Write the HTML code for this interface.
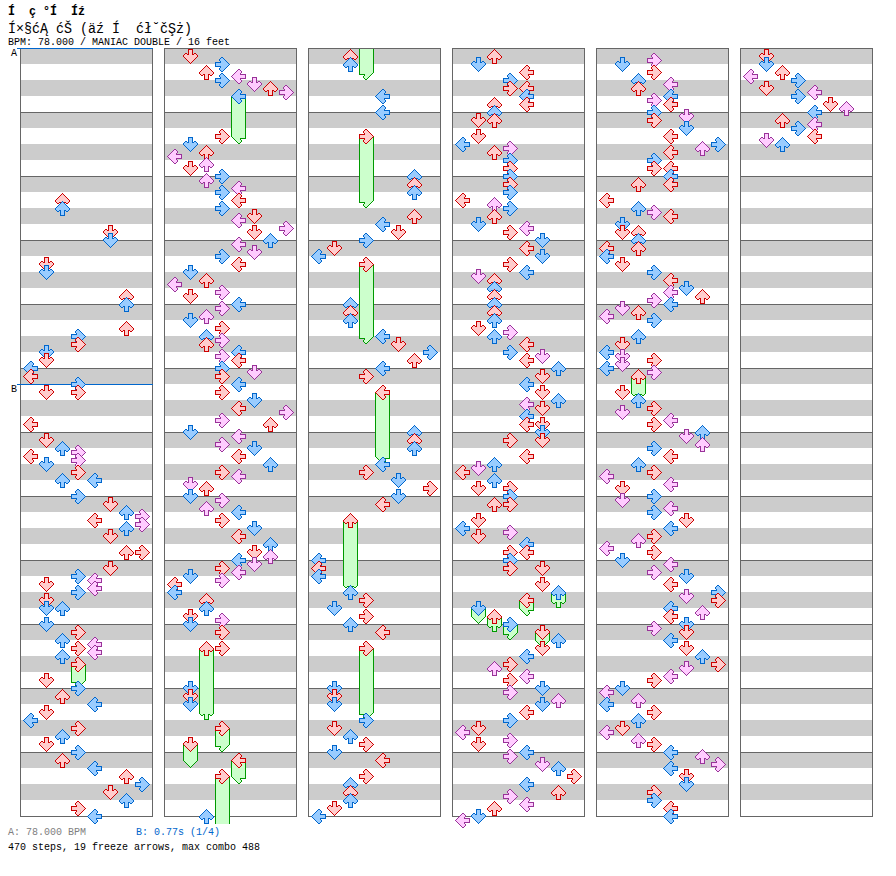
<!DOCTYPE html>
<html><head><meta charset="utf-8"><title>chart</title>
<style>
html,body{margin:0;padding:0;background:#fff;}
body{width:896px;height:876px;position:relative;overflow:hidden;font-family:"Liberation Mono",monospace;color:#000;}
.t{position:absolute;white-space:pre;line-height:1;transform-origin:0 0;}
</style></head><body>
<svg width="896" height="876" viewBox="0 0 896 876" shape-rendering="crispEdges" style="position:absolute;left:0;top:0">
<defs><symbol id="Lr" overflow="visible"><path fill="#ffcccc" d="M7 1h2v1h-2zM6 2h4v1h-4zM5 3h5v1h-5zM4 4h5v1h-5zM3 5h6v1h-6zM2 6h12v1h-12zM1 7h13v1h-13zM2 8h12v1h-12zM3 9h6v1h-6zM4 10h5v1h-5zM5 11h5v1h-5zM6 12h4v1h-4zM7 13h2v1h-2z"/><path fill="#cc0000" d="M7 0h2v1h-2zM6 1h1v1h-1zM9 1h1v1h-1zM5 2h1v1h-1zM10 2h1v1h-1zM4 3h1v1h-1zM10 3h1v1h-1zM3 4h1v1h-1zM9 4h1v1h-1zM2 5h1v1h-1zM9 5h6v1h-6zM1 6h1v1h-1zM14 6h1v1h-1zM0 7h1v1h-1zM14 7h1v1h-1zM1 8h1v1h-1zM14 8h1v1h-1zM2 9h1v1h-1zM9 9h6v1h-6zM3 10h1v1h-1zM9 10h1v1h-1zM4 11h1v1h-1zM10 11h1v1h-1zM5 12h1v1h-1zM10 12h1v1h-1zM6 13h1v1h-1zM9 13h1v1h-1zM7 14h2v1h-2z"/></symbol>
<symbol id="Lb" overflow="visible"><path fill="#99ccff" d="M7 1h2v1h-2zM6 2h4v1h-4zM5 3h5v1h-5zM4 4h5v1h-5zM3 5h6v1h-6zM2 6h12v1h-12zM1 7h13v1h-13zM2 8h12v1h-12zM3 9h6v1h-6zM4 10h5v1h-5zM5 11h5v1h-5zM6 12h4v1h-4zM7 13h2v1h-2z"/><path fill="#0066cc" d="M7 0h2v1h-2zM6 1h1v1h-1zM9 1h1v1h-1zM5 2h1v1h-1zM10 2h1v1h-1zM4 3h1v1h-1zM10 3h1v1h-1zM3 4h1v1h-1zM9 4h1v1h-1zM2 5h1v1h-1zM9 5h6v1h-6zM1 6h1v1h-1zM14 6h1v1h-1zM0 7h1v1h-1zM14 7h1v1h-1zM1 8h1v1h-1zM14 8h1v1h-1zM2 9h1v1h-1zM9 9h6v1h-6zM3 10h1v1h-1zM9 10h1v1h-1zM4 11h1v1h-1zM10 11h1v1h-1zM5 12h1v1h-1zM10 12h1v1h-1zM6 13h1v1h-1zM9 13h1v1h-1zM7 14h2v1h-2z"/></symbol>
<symbol id="Lp" overflow="visible"><path fill="#ffccff" d="M7 1h2v1h-2zM6 2h4v1h-4zM5 3h5v1h-5zM4 4h5v1h-5zM3 5h6v1h-6zM2 6h12v1h-12zM1 7h13v1h-13zM2 8h12v1h-12zM3 9h6v1h-6zM4 10h5v1h-5zM5 11h5v1h-5zM6 12h4v1h-4zM7 13h2v1h-2z"/><path fill="#993399" d="M7 0h2v1h-2zM6 1h1v1h-1zM9 1h1v1h-1zM5 2h1v1h-1zM10 2h1v1h-1zM4 3h1v1h-1zM10 3h1v1h-1zM3 4h1v1h-1zM9 4h1v1h-1zM2 5h1v1h-1zM9 5h6v1h-6zM1 6h1v1h-1zM14 6h1v1h-1zM0 7h1v1h-1zM14 7h1v1h-1zM1 8h1v1h-1zM14 8h1v1h-1zM2 9h1v1h-1zM9 9h6v1h-6zM3 10h1v1h-1zM9 10h1v1h-1zM4 11h1v1h-1zM10 11h1v1h-1zM5 12h1v1h-1zM10 12h1v1h-1zM6 13h1v1h-1zM9 13h1v1h-1zM7 14h2v1h-2z"/></symbol>
<symbol id="Lg" overflow="visible"><path fill="#ccffcc" d="M2 8h12v1h-12zM3 9h6v1h-6zM4 10h5v1h-5zM5 11h5v1h-5zM6 12h4v1h-4zM7 13h2v1h-2z"/><path fill="#009900" d="M1 8h1v1h-1zM14 8h1v1h-1zM2 9h1v1h-1zM9 9h6v1h-6zM3 10h1v1h-1zM9 10h1v1h-1zM4 11h1v1h-1zM10 11h1v1h-1zM5 12h1v1h-1zM10 12h1v1h-1zM6 13h1v1h-1zM9 13h1v1h-1zM7 14h2v1h-2z"/></symbol>
<symbol id="Dr" overflow="visible"><path fill="#ffcccc" d="M6 1h3v1h-3zM6 2h3v1h-3zM6 3h3v1h-3zM6 4h3v1h-3zM2 5h2v1h-2zM6 5h3v1h-3zM11 5h2v1h-2zM1 6h13v1h-13zM1 7h13v1h-13zM2 8h11v1h-11zM3 9h9v1h-9zM4 10h7v1h-7zM5 11h5v1h-5zM6 12h3v1h-3zM7 13h1v1h-1z"/><path fill="#cc0000" d="M5 0h5v1h-5zM5 1h1v1h-1zM9 1h1v1h-1zM5 2h1v1h-1zM9 2h1v1h-1zM5 3h1v1h-1zM9 3h1v1h-1zM2 4h2v1h-2zM5 4h1v1h-1zM9 4h1v1h-1zM11 4h2v1h-2zM1 5h1v1h-1zM4 5h2v1h-2zM9 5h2v1h-2zM13 5h1v1h-1zM0 6h1v1h-1zM14 6h1v1h-1zM0 7h1v1h-1zM14 7h1v1h-1zM1 8h1v1h-1zM13 8h1v1h-1zM2 9h1v1h-1zM12 9h1v1h-1zM3 10h1v1h-1zM11 10h1v1h-1zM4 11h1v1h-1zM10 11h1v1h-1zM5 12h1v1h-1zM9 12h1v1h-1zM6 13h1v1h-1zM8 13h1v1h-1zM7 14h1v1h-1z"/></symbol>
<symbol id="Db" overflow="visible"><path fill="#99ccff" d="M6 1h3v1h-3zM6 2h3v1h-3zM6 3h3v1h-3zM6 4h3v1h-3zM2 5h2v1h-2zM6 5h3v1h-3zM11 5h2v1h-2zM1 6h13v1h-13zM1 7h13v1h-13zM2 8h11v1h-11zM3 9h9v1h-9zM4 10h7v1h-7zM5 11h5v1h-5zM6 12h3v1h-3zM7 13h1v1h-1z"/><path fill="#0066cc" d="M5 0h5v1h-5zM5 1h1v1h-1zM9 1h1v1h-1zM5 2h1v1h-1zM9 2h1v1h-1zM5 3h1v1h-1zM9 3h1v1h-1zM2 4h2v1h-2zM5 4h1v1h-1zM9 4h1v1h-1zM11 4h2v1h-2zM1 5h1v1h-1zM4 5h2v1h-2zM9 5h2v1h-2zM13 5h1v1h-1zM0 6h1v1h-1zM14 6h1v1h-1zM0 7h1v1h-1zM14 7h1v1h-1zM1 8h1v1h-1zM13 8h1v1h-1zM2 9h1v1h-1zM12 9h1v1h-1zM3 10h1v1h-1zM11 10h1v1h-1zM4 11h1v1h-1zM10 11h1v1h-1zM5 12h1v1h-1zM9 12h1v1h-1zM6 13h1v1h-1zM8 13h1v1h-1zM7 14h1v1h-1z"/></symbol>
<symbol id="Dp" overflow="visible"><path fill="#ffccff" d="M6 1h3v1h-3zM6 2h3v1h-3zM6 3h3v1h-3zM6 4h3v1h-3zM2 5h2v1h-2zM6 5h3v1h-3zM11 5h2v1h-2zM1 6h13v1h-13zM1 7h13v1h-13zM2 8h11v1h-11zM3 9h9v1h-9zM4 10h7v1h-7zM5 11h5v1h-5zM6 12h3v1h-3zM7 13h1v1h-1z"/><path fill="#993399" d="M5 0h5v1h-5zM5 1h1v1h-1zM9 1h1v1h-1zM5 2h1v1h-1zM9 2h1v1h-1zM5 3h1v1h-1zM9 3h1v1h-1zM2 4h2v1h-2zM5 4h1v1h-1zM9 4h1v1h-1zM11 4h2v1h-2zM1 5h1v1h-1zM4 5h2v1h-2zM9 5h2v1h-2zM13 5h1v1h-1zM0 6h1v1h-1zM14 6h1v1h-1zM0 7h1v1h-1zM14 7h1v1h-1zM1 8h1v1h-1zM13 8h1v1h-1zM2 9h1v1h-1zM12 9h1v1h-1zM3 10h1v1h-1zM11 10h1v1h-1zM4 11h1v1h-1zM10 11h1v1h-1zM5 12h1v1h-1zM9 12h1v1h-1zM6 13h1v1h-1zM8 13h1v1h-1zM7 14h1v1h-1z"/></symbol>
<symbol id="Dg" overflow="visible"><path fill="#ccffcc" d="M2 8h11v1h-11zM3 9h9v1h-9zM4 10h7v1h-7zM5 11h5v1h-5zM6 12h3v1h-3zM7 13h1v1h-1z"/><path fill="#009900" d="M1 8h1v1h-1zM13 8h1v1h-1zM2 9h1v1h-1zM12 9h1v1h-1zM3 10h1v1h-1zM11 10h1v1h-1zM4 11h1v1h-1zM10 11h1v1h-1zM5 12h1v1h-1zM9 12h1v1h-1zM6 13h1v1h-1zM8 13h1v1h-1zM7 14h1v1h-1z"/></symbol>
<symbol id="Ur" overflow="visible"><path fill="#ffcccc" d="M7 1h1v1h-1zM6 2h3v1h-3zM5 3h5v1h-5zM4 4h7v1h-7zM3 5h9v1h-9zM2 6h11v1h-11zM1 7h13v1h-13zM1 8h13v1h-13zM2 9h2v1h-2zM6 9h3v1h-3zM11 9h2v1h-2zM6 10h3v1h-3zM6 11h3v1h-3zM6 12h3v1h-3zM6 13h3v1h-3z"/><path fill="#cc0000" d="M7 0h1v1h-1zM6 1h1v1h-1zM8 1h1v1h-1zM5 2h1v1h-1zM9 2h1v1h-1zM4 3h1v1h-1zM10 3h1v1h-1zM3 4h1v1h-1zM11 4h1v1h-1zM2 5h1v1h-1zM12 5h1v1h-1zM1 6h1v1h-1zM13 6h1v1h-1zM0 7h1v1h-1zM14 7h1v1h-1zM0 8h1v1h-1zM14 8h1v1h-1zM1 9h1v1h-1zM4 9h2v1h-2zM9 9h2v1h-2zM13 9h1v1h-1zM2 10h2v1h-2zM5 10h1v1h-1zM9 10h1v1h-1zM11 10h2v1h-2zM5 11h1v1h-1zM9 11h1v1h-1zM5 12h1v1h-1zM9 12h1v1h-1zM5 13h1v1h-1zM9 13h1v1h-1zM5 14h5v1h-5z"/></symbol>
<symbol id="Ub" overflow="visible"><path fill="#99ccff" d="M7 1h1v1h-1zM6 2h3v1h-3zM5 3h5v1h-5zM4 4h7v1h-7zM3 5h9v1h-9zM2 6h11v1h-11zM1 7h13v1h-13zM1 8h13v1h-13zM2 9h2v1h-2zM6 9h3v1h-3zM11 9h2v1h-2zM6 10h3v1h-3zM6 11h3v1h-3zM6 12h3v1h-3zM6 13h3v1h-3z"/><path fill="#0066cc" d="M7 0h1v1h-1zM6 1h1v1h-1zM8 1h1v1h-1zM5 2h1v1h-1zM9 2h1v1h-1zM4 3h1v1h-1zM10 3h1v1h-1zM3 4h1v1h-1zM11 4h1v1h-1zM2 5h1v1h-1zM12 5h1v1h-1zM1 6h1v1h-1zM13 6h1v1h-1zM0 7h1v1h-1zM14 7h1v1h-1zM0 8h1v1h-1zM14 8h1v1h-1zM1 9h1v1h-1zM4 9h2v1h-2zM9 9h2v1h-2zM13 9h1v1h-1zM2 10h2v1h-2zM5 10h1v1h-1zM9 10h1v1h-1zM11 10h2v1h-2zM5 11h1v1h-1zM9 11h1v1h-1zM5 12h1v1h-1zM9 12h1v1h-1zM5 13h1v1h-1zM9 13h1v1h-1zM5 14h5v1h-5z"/></symbol>
<symbol id="Up" overflow="visible"><path fill="#ffccff" d="M7 1h1v1h-1zM6 2h3v1h-3zM5 3h5v1h-5zM4 4h7v1h-7zM3 5h9v1h-9zM2 6h11v1h-11zM1 7h13v1h-13zM1 8h13v1h-13zM2 9h2v1h-2zM6 9h3v1h-3zM11 9h2v1h-2zM6 10h3v1h-3zM6 11h3v1h-3zM6 12h3v1h-3zM6 13h3v1h-3z"/><path fill="#993399" d="M7 0h1v1h-1zM6 1h1v1h-1zM8 1h1v1h-1zM5 2h1v1h-1zM9 2h1v1h-1zM4 3h1v1h-1zM10 3h1v1h-1zM3 4h1v1h-1zM11 4h1v1h-1zM2 5h1v1h-1zM12 5h1v1h-1zM1 6h1v1h-1zM13 6h1v1h-1zM0 7h1v1h-1zM14 7h1v1h-1zM0 8h1v1h-1zM14 8h1v1h-1zM1 9h1v1h-1zM4 9h2v1h-2zM9 9h2v1h-2zM13 9h1v1h-1zM2 10h2v1h-2zM5 10h1v1h-1zM9 10h1v1h-1zM11 10h2v1h-2zM5 11h1v1h-1zM9 11h1v1h-1zM5 12h1v1h-1zM9 12h1v1h-1zM5 13h1v1h-1zM9 13h1v1h-1zM5 14h5v1h-5z"/></symbol>
<symbol id="Ug" overflow="visible"><path fill="#ccffcc" d="M1 8h13v1h-13zM2 9h2v1h-2zM6 9h3v1h-3zM11 9h2v1h-2zM6 10h3v1h-3zM6 11h3v1h-3zM6 12h3v1h-3zM6 13h3v1h-3z"/><path fill="#009900" d="M0 8h1v1h-1zM14 8h1v1h-1zM1 9h1v1h-1zM4 9h2v1h-2zM9 9h2v1h-2zM13 9h1v1h-1zM2 10h2v1h-2zM5 10h1v1h-1zM9 10h1v1h-1zM11 10h2v1h-2zM5 11h1v1h-1zM9 11h1v1h-1zM5 12h1v1h-1zM9 12h1v1h-1zM5 13h1v1h-1zM9 13h1v1h-1zM5 14h5v1h-5z"/></symbol>
<symbol id="Rr" overflow="visible"><path fill="#ffcccc" d="M6 1h2v1h-2zM5 2h4v1h-4zM5 3h5v1h-5zM6 4h5v1h-5zM6 5h6v1h-6zM1 6h12v1h-12zM1 7h13v1h-13zM1 8h12v1h-12zM6 9h6v1h-6zM6 10h5v1h-5zM5 11h5v1h-5zM5 12h4v1h-4zM6 13h2v1h-2z"/><path fill="#cc0000" d="M6 0h2v1h-2zM5 1h1v1h-1zM8 1h1v1h-1zM4 2h1v1h-1zM9 2h1v1h-1zM4 3h1v1h-1zM10 3h1v1h-1zM5 4h1v1h-1zM11 4h1v1h-1zM0 5h6v1h-6zM12 5h1v1h-1zM0 6h1v1h-1zM13 6h1v1h-1zM0 7h1v1h-1zM14 7h1v1h-1zM0 8h1v1h-1zM13 8h1v1h-1zM0 9h6v1h-6zM12 9h1v1h-1zM5 10h1v1h-1zM11 10h1v1h-1zM4 11h1v1h-1zM10 11h1v1h-1zM4 12h1v1h-1zM9 12h1v1h-1zM5 13h1v1h-1zM8 13h1v1h-1zM6 14h2v1h-2z"/></symbol>
<symbol id="Rb" overflow="visible"><path fill="#99ccff" d="M6 1h2v1h-2zM5 2h4v1h-4zM5 3h5v1h-5zM6 4h5v1h-5zM6 5h6v1h-6zM1 6h12v1h-12zM1 7h13v1h-13zM1 8h12v1h-12zM6 9h6v1h-6zM6 10h5v1h-5zM5 11h5v1h-5zM5 12h4v1h-4zM6 13h2v1h-2z"/><path fill="#0066cc" d="M6 0h2v1h-2zM5 1h1v1h-1zM8 1h1v1h-1zM4 2h1v1h-1zM9 2h1v1h-1zM4 3h1v1h-1zM10 3h1v1h-1zM5 4h1v1h-1zM11 4h1v1h-1zM0 5h6v1h-6zM12 5h1v1h-1zM0 6h1v1h-1zM13 6h1v1h-1zM0 7h1v1h-1zM14 7h1v1h-1zM0 8h1v1h-1zM13 8h1v1h-1zM0 9h6v1h-6zM12 9h1v1h-1zM5 10h1v1h-1zM11 10h1v1h-1zM4 11h1v1h-1zM10 11h1v1h-1zM4 12h1v1h-1zM9 12h1v1h-1zM5 13h1v1h-1zM8 13h1v1h-1zM6 14h2v1h-2z"/></symbol>
<symbol id="Rp" overflow="visible"><path fill="#ffccff" d="M6 1h2v1h-2zM5 2h4v1h-4zM5 3h5v1h-5zM6 4h5v1h-5zM6 5h6v1h-6zM1 6h12v1h-12zM1 7h13v1h-13zM1 8h12v1h-12zM6 9h6v1h-6zM6 10h5v1h-5zM5 11h5v1h-5zM5 12h4v1h-4zM6 13h2v1h-2z"/><path fill="#993399" d="M6 0h2v1h-2zM5 1h1v1h-1zM8 1h1v1h-1zM4 2h1v1h-1zM9 2h1v1h-1zM4 3h1v1h-1zM10 3h1v1h-1zM5 4h1v1h-1zM11 4h1v1h-1zM0 5h6v1h-6zM12 5h1v1h-1zM0 6h1v1h-1zM13 6h1v1h-1zM0 7h1v1h-1zM14 7h1v1h-1zM0 8h1v1h-1zM13 8h1v1h-1zM0 9h6v1h-6zM12 9h1v1h-1zM5 10h1v1h-1zM11 10h1v1h-1zM4 11h1v1h-1zM10 11h1v1h-1zM4 12h1v1h-1zM9 12h1v1h-1zM5 13h1v1h-1zM8 13h1v1h-1zM6 14h2v1h-2z"/></symbol>
<symbol id="Rg" overflow="visible"><path fill="#ccffcc" d="M1 8h12v1h-12zM6 9h6v1h-6zM6 10h5v1h-5zM5 11h5v1h-5zM5 12h4v1h-4zM6 13h2v1h-2z"/><path fill="#009900" d="M0 8h1v1h-1zM13 8h1v1h-1zM0 9h6v1h-6zM12 9h1v1h-1zM5 10h1v1h-1zM11 10h1v1h-1zM4 11h1v1h-1zM10 11h1v1h-1zM4 12h1v1h-1zM9 12h1v1h-1zM5 13h1v1h-1zM8 13h1v1h-1zM6 14h2v1h-2z"/></symbol></defs>
<rect x="20" y="48" width="133" height="769" fill="#fff"/>
<path fill="#cccccc" d="M21 48h131v16h-131zM21 80h131v16h-131zM21 112h131v16h-131zM21 144h131v16h-131zM21 176h131v16h-131zM21 208h131v16h-131zM21 240h131v16h-131zM21 272h131v16h-131zM21 304h131v16h-131zM21 336h131v16h-131zM21 368h131v16h-131zM21 400h131v16h-131zM21 432h131v16h-131zM21 464h131v16h-131zM21 496h131v16h-131zM21 528h131v16h-131zM21 560h131v16h-131zM21 592h131v16h-131zM21 624h131v16h-131zM21 656h131v16h-131zM21 688h131v16h-131zM21 720h131v16h-131zM21 752h131v16h-131zM21 784h131v16h-131z"/>
<path fill="#666666" d="M20 48h133v1h-133zM20 112h133v1h-133zM20 176h133v1h-133zM20 240h133v1h-133zM20 304h133v1h-133zM20 368h133v1h-133zM20 432h133v1h-133zM20 496h133v1h-133zM20 560h133v1h-133zM20 624h133v1h-133zM20 688h133v1h-133zM20 752h133v1h-133zM20 816h133v1h-133zM20 48h1v769h-1zM152 48h1v769h-1z"/>
<rect x="164" y="48" width="133" height="769" fill="#fff"/>
<path fill="#cccccc" d="M165 48h131v16h-131zM165 80h131v16h-131zM165 112h131v16h-131zM165 144h131v16h-131zM165 176h131v16h-131zM165 208h131v16h-131zM165 240h131v16h-131zM165 272h131v16h-131zM165 304h131v16h-131zM165 336h131v16h-131zM165 368h131v16h-131zM165 400h131v16h-131zM165 432h131v16h-131zM165 464h131v16h-131zM165 496h131v16h-131zM165 528h131v16h-131zM165 560h131v16h-131zM165 592h131v16h-131zM165 624h131v16h-131zM165 656h131v16h-131zM165 688h131v16h-131zM165 720h131v16h-131zM165 752h131v16h-131zM165 784h131v16h-131z"/>
<path fill="#666666" d="M164 48h133v1h-133zM164 112h133v1h-133zM164 176h133v1h-133zM164 240h133v1h-133zM164 304h133v1h-133zM164 368h133v1h-133zM164 432h133v1h-133zM164 496h133v1h-133zM164 560h133v1h-133zM164 624h133v1h-133zM164 688h133v1h-133zM164 752h133v1h-133zM164 816h133v1h-133zM164 48h1v769h-1zM296 48h1v769h-1z"/>
<rect x="308" y="48" width="133" height="769" fill="#fff"/>
<path fill="#cccccc" d="M309 48h131v16h-131zM309 80h131v16h-131zM309 112h131v16h-131zM309 144h131v16h-131zM309 176h131v16h-131zM309 208h131v16h-131zM309 240h131v16h-131zM309 272h131v16h-131zM309 304h131v16h-131zM309 336h131v16h-131zM309 368h131v16h-131zM309 400h131v16h-131zM309 432h131v16h-131zM309 464h131v16h-131zM309 496h131v16h-131zM309 528h131v16h-131zM309 560h131v16h-131zM309 592h131v16h-131zM309 624h131v16h-131zM309 656h131v16h-131zM309 688h131v16h-131zM309 720h131v16h-131zM309 752h131v16h-131zM309 784h131v16h-131z"/>
<path fill="#666666" d="M308 48h133v1h-133zM308 112h133v1h-133zM308 176h133v1h-133zM308 240h133v1h-133zM308 304h133v1h-133zM308 368h133v1h-133zM308 432h133v1h-133zM308 496h133v1h-133zM308 560h133v1h-133zM308 624h133v1h-133zM308 688h133v1h-133zM308 752h133v1h-133zM308 816h133v1h-133zM308 48h1v769h-1zM440 48h1v769h-1z"/>
<rect x="452" y="48" width="133" height="769" fill="#fff"/>
<path fill="#cccccc" d="M453 48h131v16h-131zM453 80h131v16h-131zM453 112h131v16h-131zM453 144h131v16h-131zM453 176h131v16h-131zM453 208h131v16h-131zM453 240h131v16h-131zM453 272h131v16h-131zM453 304h131v16h-131zM453 336h131v16h-131zM453 368h131v16h-131zM453 400h131v16h-131zM453 432h131v16h-131zM453 464h131v16h-131zM453 496h131v16h-131zM453 528h131v16h-131zM453 560h131v16h-131zM453 592h131v16h-131zM453 624h131v16h-131zM453 656h131v16h-131zM453 688h131v16h-131zM453 720h131v16h-131zM453 752h131v16h-131zM453 784h131v16h-131z"/>
<path fill="#666666" d="M452 48h133v1h-133zM452 112h133v1h-133zM452 176h133v1h-133zM452 240h133v1h-133zM452 304h133v1h-133zM452 368h133v1h-133zM452 432h133v1h-133zM452 496h133v1h-133zM452 560h133v1h-133zM452 624h133v1h-133zM452 688h133v1h-133zM452 752h133v1h-133zM452 816h133v1h-133zM452 48h1v769h-1zM584 48h1v769h-1z"/>
<rect x="596" y="48" width="133" height="769" fill="#fff"/>
<path fill="#cccccc" d="M597 48h131v16h-131zM597 80h131v16h-131zM597 112h131v16h-131zM597 144h131v16h-131zM597 176h131v16h-131zM597 208h131v16h-131zM597 240h131v16h-131zM597 272h131v16h-131zM597 304h131v16h-131zM597 336h131v16h-131zM597 368h131v16h-131zM597 400h131v16h-131zM597 432h131v16h-131zM597 464h131v16h-131zM597 496h131v16h-131zM597 528h131v16h-131zM597 560h131v16h-131zM597 592h131v16h-131zM597 624h131v16h-131zM597 656h131v16h-131zM597 688h131v16h-131zM597 720h131v16h-131zM597 752h131v16h-131zM597 784h131v16h-131z"/>
<path fill="#666666" d="M596 48h133v1h-133zM596 112h133v1h-133zM596 176h133v1h-133zM596 240h133v1h-133zM596 304h133v1h-133zM596 368h133v1h-133zM596 432h133v1h-133zM596 496h133v1h-133zM596 560h133v1h-133zM596 624h133v1h-133zM596 688h133v1h-133zM596 752h133v1h-133zM596 816h133v1h-133zM596 48h1v769h-1zM728 48h1v769h-1z"/>
<rect x="740" y="48" width="133" height="769" fill="#fff"/>
<path fill="#cccccc" d="M741 48h131v16h-131zM741 80h131v16h-131zM741 112h131v16h-131zM741 144h131v16h-131zM741 176h131v16h-131zM741 208h131v16h-131zM741 240h131v16h-131zM741 272h131v16h-131zM741 304h131v16h-131zM741 336h131v16h-131zM741 368h131v16h-131zM741 400h131v16h-131zM741 432h131v16h-131zM741 464h131v16h-131zM741 496h131v16h-131zM741 528h131v16h-131zM741 560h131v16h-131zM741 592h131v16h-131zM741 624h131v16h-131zM741 656h131v16h-131zM741 688h131v16h-131zM741 720h131v16h-131zM741 752h131v16h-131zM741 784h131v16h-131z"/>
<path fill="#666666" d="M740 48h133v1h-133zM740 112h133v1h-133zM740 176h133v1h-133zM740 240h133v1h-133zM740 304h133v1h-133zM740 368h133v1h-133zM740 432h133v1h-133zM740 496h133v1h-133zM740 560h133v1h-133zM740 624h133v1h-133zM740 688h133v1h-133zM740 752h133v1h-133zM740 816h133v1h-133zM740 48h1v769h-1zM872 48h1v769h-1z"/>
<rect x="17" y="48" width="136" height="1" fill="#0066cc"/>
<rect x="17" y="384" width="136" height="1" fill="#0066cc"/>
<use href="#Ur" x="55" y="193"/>
<use href="#Ub" x="55" y="201"/>
<use href="#Dr" x="103" y="225"/>
<use href="#Db" x="103" y="233"/>
<use href="#Dr" x="39" y="257"/>
<use href="#Db" x="39" y="265"/>
<use href="#Ur" x="119" y="289"/>
<use href="#Ub" x="119" y="297"/>
<use href="#Ur" x="119" y="321"/>
<use href="#Rb" x="71" y="329"/>
<use href="#Rr" x="71" y="337"/>
<use href="#Db" x="39" y="345"/>
<use href="#Dr" x="39" y="353"/>
<use href="#Lb" x="23" y="361"/>
<use href="#Lr" x="23" y="369"/>
<use href="#Rb" x="71" y="377"/>
<use href="#Dr" x="39" y="385"/>
<use href="#Rr" x="71" y="385"/>
<use href="#Lr" x="23" y="417"/>
<use href="#Dr" x="39" y="433"/>
<use href="#Ub" x="55" y="441"/>
<use href="#Rp" x="71" y="445"/>
<use href="#Lr" x="23" y="449"/>
<use href="#Rp" x="71" y="453"/>
<use href="#Db" x="39" y="457"/>
<use href="#Rr" x="71" y="465"/>
<use href="#Ub" x="55" y="473"/>
<use href="#Lb" x="87" y="473"/>
<use href="#Rb" x="71" y="489"/>
<use href="#Dr" x="103" y="497"/>
<use href="#Ub" x="119" y="505"/>
<use href="#Rp" x="135" y="509"/>
<use href="#Lr" x="87" y="513"/>
<use href="#Rp" x="135" y="517"/>
<use href="#Ub" x="119" y="521"/>
<use href="#Dr" x="103" y="529"/>
<use href="#Ur" x="119" y="545"/>
<use href="#Rr" x="135" y="545"/>
<use href="#Dr" x="103" y="561"/>
<use href="#Rb" x="71" y="569"/>
<use href="#Lp" x="87" y="573"/>
<use href="#Dr" x="39" y="577"/>
<use href="#Lp" x="87" y="581"/>
<use href="#Rb" x="71" y="585"/>
<use href="#Dr" x="39" y="593"/>
<use href="#Db" x="39" y="601"/>
<use href="#Ub" x="55" y="601"/>
<use href="#Db" x="39" y="617"/>
<use href="#Rr" x="71" y="625"/>
<use href="#Ub" x="55" y="633"/>
<use href="#Lp" x="87" y="637"/>
<use href="#Rr" x="71" y="641"/>
<use href="#Lp" x="87" y="645"/>
<use href="#Ub" x="55" y="649"/>
<rect x="71" y="664" width="15" height="17" fill="#009900"/>
<rect x="72" y="664" width="13" height="17" fill="#ccffcc"/>
<use href="#Rg" x="71" y="673"/>
<use href="#Rr" x="71" y="657"/>
<use href="#Dr" x="39" y="673"/>
<use href="#Rb" x="71" y="681"/>
<use href="#Ur" x="55" y="689"/>
<use href="#Lb" x="87" y="697"/>
<use href="#Dr" x="39" y="705"/>
<use href="#Lb" x="23" y="713"/>
<use href="#Rr" x="71" y="721"/>
<use href="#Ub" x="55" y="729"/>
<use href="#Dr" x="39" y="737"/>
<use href="#Rb" x="71" y="745"/>
<use href="#Ur" x="55" y="753"/>
<use href="#Lb" x="87" y="761"/>
<use href="#Ur" x="119" y="769"/>
<use href="#Rb" x="135" y="777"/>
<use href="#Dr" x="103" y="785"/>
<use href="#Ub" x="119" y="793"/>
<use href="#Rr" x="71" y="801"/>
<use href="#Lb" x="87" y="809"/>
<use href="#Dr" x="183" y="49"/>
<use href="#Rb" x="215" y="57"/>
<use href="#Ur" x="199" y="65"/>
<use href="#Lp" x="231" y="69"/>
<use href="#Rb" x="215" y="73"/>
<use href="#Dp" x="247" y="77"/>
<use href="#Ur" x="263" y="81"/>
<use href="#Rp" x="279" y="85"/>
<rect x="231" y="96" width="15" height="41" fill="#009900"/>
<rect x="232" y="96" width="13" height="41" fill="#ccffcc"/>
<use href="#Lg" x="231" y="129"/>
<use href="#Lb" x="231" y="89"/>
<use href="#Rr" x="215" y="129"/>
<use href="#Db" x="183" y="137"/>
<use href="#Ur" x="199" y="145"/>
<use href="#Lp" x="167" y="149"/>
<use href="#Up" x="199" y="157"/>
<use href="#Dr" x="183" y="161"/>
<use href="#Rb" x="215" y="169"/>
<use href="#Up" x="199" y="173"/>
<use href="#Lp" x="231" y="181"/>
<use href="#Rb" x="215" y="185"/>
<use href="#Lr" x="231" y="193"/>
<use href="#Rb" x="215" y="201"/>
<use href="#Dr" x="247" y="209"/>
<use href="#Lp" x="231" y="213"/>
<use href="#Rp" x="279" y="221"/>
<use href="#Dr" x="247" y="225"/>
<use href="#Ub" x="263" y="233"/>
<use href="#Lp" x="231" y="237"/>
<use href="#Dp" x="247" y="245"/>
<use href="#Rb" x="215" y="249"/>
<use href="#Lr" x="231" y="257"/>
<use href="#Db" x="183" y="265"/>
<use href="#Ur" x="199" y="273"/>
<use href="#Lp" x="167" y="277"/>
<use href="#Rp" x="215" y="285"/>
<use href="#Dr" x="183" y="289"/>
<use href="#Lb" x="231" y="297"/>
<use href="#Rp" x="215" y="301"/>
<use href="#Up" x="199" y="309"/>
<use href="#Db" x="183" y="313"/>
<use href="#Rr" x="215" y="321"/>
<use href="#Ub" x="199" y="329"/>
<use href="#Rp" x="215" y="333"/>
<use href="#Ur" x="199" y="337"/>
<use href="#Lb" x="231" y="345"/>
<use href="#Rp" x="215" y="349"/>
<use href="#Lr" x="231" y="353"/>
<use href="#Rb" x="215" y="361"/>
<use href="#Dp" x="247" y="365"/>
<use href="#Rr" x="215" y="369"/>
<use href="#Lb" x="231" y="377"/>
<use href="#Rr" x="215" y="385"/>
<use href="#Db" x="247" y="393"/>
<use href="#Lr" x="231" y="401"/>
<use href="#Rp" x="279" y="405"/>
<use href="#Rp" x="215" y="413"/>
<use href="#Ur" x="263" y="417"/>
<use href="#Db" x="183" y="425"/>
<use href="#Lp" x="231" y="429"/>
<use href="#Rp" x="215" y="437"/>
<use href="#Db" x="247" y="441"/>
<use href="#Lr" x="231" y="449"/>
<use href="#Ub" x="263" y="457"/>
<use href="#Rr" x="215" y="465"/>
<use href="#Lp" x="231" y="469"/>
<use href="#Dp" x="183" y="477"/>
<use href="#Ur" x="199" y="481"/>
<use href="#Db" x="183" y="489"/>
<use href="#Rp" x="215" y="493"/>
<use href="#Up" x="199" y="501"/>
<use href="#Lb" x="231" y="505"/>
<use href="#Rr" x="215" y="513"/>
<use href="#Db" x="247" y="521"/>
<use href="#Lr" x="231" y="529"/>
<use href="#Ub" x="263" y="537"/>
<use href="#Dr" x="247" y="545"/>
<use href="#Up" x="263" y="549"/>
<use href="#Lb" x="231" y="553"/>
<use href="#Dp" x="247" y="557"/>
<use href="#Rr" x="215" y="561"/>
<use href="#Lp" x="231" y="565"/>
<use href="#Db" x="183" y="569"/>
<use href="#Rp" x="215" y="573"/>
<use href="#Lr" x="167" y="577"/>
<use href="#Lb" x="167" y="585"/>
<use href="#Ur" x="199" y="593"/>
<use href="#Ub" x="199" y="601"/>
<use href="#Dr" x="183" y="609"/>
<use href="#Rp" x="215" y="613"/>
<use href="#Db" x="183" y="617"/>
<use href="#Rr" x="215" y="625"/>
<rect x="199" y="648" width="15" height="65" fill="#009900"/>
<rect x="200" y="648" width="13" height="65" fill="#ccffcc"/>
<use href="#Ug" x="199" y="705"/>
<use href="#Ur" x="199" y="641"/>
<use href="#Rr" x="215" y="641"/>
<use href="#Db" x="183" y="681"/>
<use href="#Dr" x="183" y="689"/>
<use href="#Db" x="183" y="697"/>
<rect x="215" y="728" width="15" height="17" fill="#009900"/>
<rect x="216" y="728" width="13" height="17" fill="#ccffcc"/>
<use href="#Rg" x="215" y="737"/>
<use href="#Rr" x="215" y="721"/>
<rect x="183" y="744" width="15" height="17" fill="#009900"/>
<rect x="184" y="744" width="13" height="17" fill="#ccffcc"/>
<use href="#Dg" x="183" y="753"/>
<use href="#Dr" x="183" y="737"/>
<rect x="231" y="760" width="15" height="17" fill="#009900"/>
<rect x="232" y="760" width="13" height="17" fill="#ccffcc"/>
<use href="#Lg" x="231" y="769"/>
<use href="#Lr" x="231" y="753"/>
<rect x="215" y="776" width="15" height="48" fill="#009900"/>
<rect x="216" y="776" width="13" height="48" fill="#ccffcc"/>
<rect x="359" y="49" width="15" height="24" fill="#009900"/>
<rect x="360" y="49" width="13" height="24" fill="#ccffcc"/>
<use href="#Rg" x="359" y="65"/>
<use href="#Rr" x="215" y="769"/>
<use href="#Ub" x="199" y="809"/>
<use href="#Ur" x="343" y="49"/>
<use href="#Ub" x="343" y="57"/>
<use href="#Lb" x="375" y="89"/>
<use href="#Lb" x="375" y="105"/>
<rect x="359" y="136" width="15" height="65" fill="#009900"/>
<rect x="360" y="136" width="13" height="65" fill="#ccffcc"/>
<use href="#Rg" x="359" y="193"/>
<use href="#Rr" x="359" y="129"/>
<use href="#Ub" x="407" y="169"/>
<use href="#Ur" x="407" y="177"/>
<use href="#Ub" x="407" y="185"/>
<use href="#Ur" x="407" y="209"/>
<use href="#Lb" x="375" y="217"/>
<use href="#Dr" x="391" y="225"/>
<use href="#Rb" x="359" y="233"/>
<use href="#Dr" x="327" y="241"/>
<use href="#Lb" x="311" y="249"/>
<rect x="359" y="264" width="15" height="73" fill="#009900"/>
<rect x="360" y="264" width="13" height="73" fill="#ccffcc"/>
<use href="#Rg" x="359" y="329"/>
<use href="#Rr" x="359" y="257"/>
<use href="#Ub" x="343" y="297"/>
<use href="#Ur" x="343" y="305"/>
<use href="#Ub" x="343" y="313"/>
<use href="#Lb" x="375" y="329"/>
<use href="#Dr" x="391" y="337"/>
<use href="#Rb" x="423" y="345"/>
<use href="#Ur" x="407" y="353"/>
<use href="#Lb" x="375" y="361"/>
<use href="#Rr" x="359" y="369"/>
<rect x="375" y="392" width="15" height="65" fill="#009900"/>
<rect x="376" y="392" width="13" height="65" fill="#ccffcc"/>
<use href="#Lg" x="375" y="449"/>
<use href="#Lr" x="375" y="385"/>
<use href="#Ub" x="407" y="425"/>
<use href="#Ur" x="407" y="433"/>
<use href="#Ub" x="407" y="441"/>
<use href="#Lb" x="375" y="457"/>
<use href="#Rr" x="359" y="465"/>
<use href="#Db" x="391" y="473"/>
<use href="#Rr" x="423" y="481"/>
<use href="#Db" x="391" y="489"/>
<use href="#Lr" x="375" y="497"/>
<rect x="343" y="520" width="15" height="65" fill="#009900"/>
<rect x="344" y="520" width="13" height="65" fill="#ccffcc"/>
<use href="#Ug" x="343" y="577"/>
<use href="#Ur" x="343" y="513"/>
<use href="#Lb" x="311" y="553"/>
<use href="#Lr" x="311" y="561"/>
<use href="#Lb" x="311" y="569"/>
<use href="#Ub" x="343" y="585"/>
<use href="#Rr" x="359" y="593"/>
<use href="#Db" x="327" y="601"/>
<use href="#Rr" x="359" y="609"/>
<use href="#Ub" x="343" y="617"/>
<use href="#Lr" x="375" y="625"/>
<rect x="359" y="648" width="15" height="65" fill="#009900"/>
<rect x="360" y="648" width="13" height="65" fill="#ccffcc"/>
<use href="#Rg" x="359" y="705"/>
<use href="#Rr" x="359" y="641"/>
<use href="#Db" x="327" y="681"/>
<use href="#Dr" x="327" y="689"/>
<use href="#Db" x="327" y="697"/>
<use href="#Rb" x="359" y="713"/>
<use href="#Dr" x="327" y="721"/>
<use href="#Ub" x="343" y="729"/>
<use href="#Rr" x="359" y="737"/>
<use href="#Db" x="327" y="745"/>
<use href="#Lr" x="375" y="753"/>
<use href="#Rr" x="359" y="769"/>
<use href="#Ub" x="343" y="777"/>
<use href="#Ur" x="343" y="785"/>
<use href="#Ub" x="343" y="793"/>
<use href="#Dr" x="327" y="801"/>
<use href="#Lb" x="311" y="809"/>
<use href="#Ur" x="487" y="49"/>
<use href="#Db" x="471" y="57"/>
<use href="#Lr" x="519" y="65"/>
<use href="#Rb" x="503" y="73"/>
<use href="#Rr" x="503" y="81"/>
<use href="#Lr" x="519" y="81"/>
<use href="#Lb" x="519" y="89"/>
<use href="#Ur" x="487" y="97"/>
<use href="#Lr" x="519" y="97"/>
<use href="#Ub" x="487" y="105"/>
<use href="#Dr" x="471" y="113"/>
<use href="#Ur" x="487" y="113"/>
<use href="#Dr" x="471" y="129"/>
<use href="#Lb" x="455" y="137"/>
<use href="#Rp" x="503" y="141"/>
<use href="#Ur" x="487" y="145"/>
<use href="#Rb" x="503" y="153"/>
<use href="#Rr" x="503" y="161"/>
<use href="#Rb" x="503" y="169"/>
<use href="#Rr" x="503" y="177"/>
<use href="#Rb" x="503" y="185"/>
<use href="#Lr" x="455" y="193"/>
<use href="#Up" x="487" y="197"/>
<use href="#Rb" x="503" y="201"/>
<use href="#Ur" x="487" y="209"/>
<use href="#Db" x="471" y="217"/>
<use href="#Lp" x="519" y="221"/>
<use href="#Rr" x="503" y="225"/>
<use href="#Db" x="535" y="233"/>
<use href="#Lr" x="519" y="241"/>
<use href="#Db" x="535" y="249"/>
<use href="#Rr" x="503" y="257"/>
<use href="#Lb" x="519" y="265"/>
<use href="#Dp" x="471" y="269"/>
<use href="#Ur" x="487" y="273"/>
<use href="#Ub" x="487" y="281"/>
<use href="#Ur" x="487" y="289"/>
<use href="#Ub" x="487" y="297"/>
<use href="#Ur" x="487" y="305"/>
<use href="#Ub" x="487" y="313"/>
<use href="#Dr" x="471" y="321"/>
<use href="#Rp" x="503" y="325"/>
<use href="#Ub" x="487" y="329"/>
<use href="#Lr" x="519" y="337"/>
<use href="#Rb" x="503" y="345"/>
<use href="#Dp" x="535" y="349"/>
<use href="#Lr" x="519" y="353"/>
<use href="#Ub" x="551" y="361"/>
<use href="#Dr" x="535" y="369"/>
<use href="#Lb" x="519" y="377"/>
<use href="#Dr" x="535" y="385"/>
<use href="#Ub" x="551" y="393"/>
<use href="#Lp" x="519" y="397"/>
<use href="#Dr" x="535" y="401"/>
<use href="#Lb" x="519" y="409"/>
<use href="#Lr" x="519" y="417"/>
<use href="#Dr" x="535" y="417"/>
<use href="#Db" x="535" y="425"/>
<use href="#Rr" x="503" y="433"/>
<use href="#Dr" x="535" y="433"/>
<use href="#Lr" x="519" y="449"/>
<use href="#Ub" x="487" y="457"/>
<use href="#Dp" x="471" y="461"/>
<use href="#Lr" x="455" y="465"/>
<use href="#Ub" x="487" y="473"/>
<use href="#Dr" x="471" y="481"/>
<use href="#Rr" x="503" y="481"/>
<use href="#Rb" x="503" y="489"/>
<use href="#Ur" x="487" y="497"/>
<use href="#Rr" x="503" y="497"/>
<use href="#Dr" x="471" y="513"/>
<use href="#Lb" x="455" y="521"/>
<use href="#Rp" x="503" y="525"/>
<use href="#Dr" x="471" y="529"/>
<use href="#Lb" x="519" y="537"/>
<use href="#Rr" x="503" y="545"/>
<use href="#Lr" x="519" y="545"/>
<use href="#Rb" x="503" y="553"/>
<use href="#Rr" x="503" y="561"/>
<use href="#Dr" x="535" y="561"/>
<use href="#Dr" x="535" y="577"/>
<rect x="551" y="592" width="15" height="9" fill="#009900"/>
<rect x="552" y="592" width="13" height="9" fill="#ccffcc"/>
<use href="#Ug" x="551" y="593"/>
<use href="#Ub" x="551" y="585"/>
<rect x="519" y="600" width="15" height="9" fill="#009900"/>
<rect x="520" y="600" width="13" height="9" fill="#ccffcc"/>
<use href="#Lg" x="519" y="601"/>
<use href="#Lr" x="519" y="593"/>
<rect x="471" y="608" width="15" height="9" fill="#009900"/>
<rect x="472" y="608" width="13" height="9" fill="#ccffcc"/>
<use href="#Dg" x="471" y="609"/>
<use href="#Db" x="471" y="601"/>
<rect x="487" y="616" width="15" height="9" fill="#009900"/>
<rect x="488" y="616" width="13" height="9" fill="#ccffcc"/>
<use href="#Ug" x="487" y="617"/>
<use href="#Ur" x="487" y="609"/>
<rect x="503" y="624" width="15" height="9" fill="#009900"/>
<rect x="504" y="624" width="13" height="9" fill="#ccffcc"/>
<use href="#Rg" x="503" y="625"/>
<use href="#Rb" x="503" y="617"/>
<rect x="535" y="632" width="15" height="9" fill="#009900"/>
<rect x="536" y="632" width="13" height="9" fill="#ccffcc"/>
<use href="#Dg" x="535" y="633"/>
<use href="#Dr" x="535" y="625"/>
<use href="#Ub" x="551" y="633"/>
<use href="#Dr" x="535" y="641"/>
<use href="#Lb" x="519" y="649"/>
<use href="#Rr" x="503" y="657"/>
<use href="#Up" x="487" y="661"/>
<use href="#Lp" x="519" y="669"/>
<use href="#Rr" x="503" y="673"/>
<use href="#Db" x="535" y="681"/>
<use href="#Rp" x="503" y="685"/>
<use href="#Up" x="551" y="693"/>
<use href="#Db" x="535" y="697"/>
<use href="#Lr" x="519" y="705"/>
<use href="#Rb" x="503" y="713"/>
<use href="#Dr" x="471" y="721"/>
<use href="#Lp" x="455" y="725"/>
<use href="#Rp" x="503" y="733"/>
<use href="#Dr" x="471" y="737"/>
<use href="#Lb" x="519" y="745"/>
<use href="#Rp" x="503" y="749"/>
<use href="#Dp" x="535" y="757"/>
<use href="#Ub" x="551" y="761"/>
<use href="#Rr" x="567" y="769"/>
<use href="#Lb" x="519" y="777"/>
<use href="#Ur" x="551" y="785"/>
<use href="#Rp" x="503" y="789"/>
<use href="#Lp" x="519" y="797"/>
<use href="#Ur" x="487" y="801"/>
<use href="#Db" x="471" y="809"/>
<use href="#Lp" x="455" y="813"/>
<use href="#Rp" x="647" y="53"/>
<use href="#Db" x="615" y="57"/>
<use href="#Rr" x="647" y="65"/>
<use href="#Ub" x="631" y="73"/>
<use href="#Lp" x="663" y="77"/>
<use href="#Ur" x="631" y="81"/>
<use href="#Lb" x="663" y="89"/>
<use href="#Rp" x="647" y="93"/>
<use href="#Lr" x="663" y="97"/>
<use href="#Rb" x="647" y="105"/>
<use href="#Dp" x="679" y="109"/>
<use href="#Rr" x="647" y="113"/>
<use href="#Db" x="679" y="121"/>
<use href="#Lr" x="663" y="129"/>
<use href="#Rb" x="711" y="137"/>
<use href="#Up" x="695" y="141"/>
<use href="#Lr" x="663" y="145"/>
<use href="#Rb" x="647" y="153"/>
<use href="#Rr" x="647" y="161"/>
<use href="#Lr" x="663" y="161"/>
<use href="#Lb" x="663" y="169"/>
<use href="#Ur" x="631" y="177"/>
<use href="#Lr" x="663" y="177"/>
<use href="#Lr" x="599" y="193"/>
<use href="#Ub" x="631" y="201"/>
<use href="#Rp" x="647" y="205"/>
<use href="#Lr" x="663" y="209"/>
<use href="#Db" x="615" y="217"/>
<use href="#Dr" x="615" y="225"/>
<use href="#Ur" x="631" y="225"/>
<use href="#Ub" x="631" y="233"/>
<use href="#Lr" x="599" y="241"/>
<use href="#Ur" x="631" y="241"/>
<use href="#Lb" x="599" y="249"/>
<use href="#Dr" x="615" y="257"/>
<use href="#Rb" x="647" y="265"/>
<use href="#Lr" x="663" y="273"/>
<use href="#Db" x="679" y="281"/>
<use href="#Lp" x="663" y="285"/>
<use href="#Ur" x="695" y="289"/>
<use href="#Rp" x="647" y="293"/>
<use href="#Lb" x="663" y="297"/>
<use href="#Dp" x="615" y="301"/>
<use href="#Ur" x="631" y="305"/>
<use href="#Lp" x="599" y="309"/>
<use href="#Rb" x="647" y="313"/>
<use href="#Ub" x="631" y="329"/>
<use href="#Dr" x="615" y="337"/>
<use href="#Lb" x="599" y="345"/>
<use href="#Dp" x="615" y="349"/>
<use href="#Rr" x="647" y="353"/>
<use href="#Dp" x="615" y="357"/>
<use href="#Lb" x="599" y="361"/>
<use href="#Rp" x="647" y="365"/>
<rect x="631" y="376" width="15" height="17" fill="#009900"/>
<rect x="632" y="376" width="13" height="17" fill="#ccffcc"/>
<use href="#Ug" x="631" y="385"/>
<use href="#Ur" x="631" y="369"/>
<use href="#Dr" x="615" y="385"/>
<use href="#Ub" x="631" y="393"/>
<use href="#Rr" x="647" y="401"/>
<use href="#Dp" x="615" y="405"/>
<use href="#Lp" x="663" y="413"/>
<use href="#Rr" x="647" y="417"/>
<use href="#Ub" x="695" y="425"/>
<use href="#Dp" x="679" y="429"/>
<use href="#Up" x="695" y="437"/>
<use href="#Rb" x="647" y="441"/>
<use href="#Lr" x="663" y="449"/>
<use href="#Ub" x="631" y="457"/>
<use href="#Rr" x="647" y="465"/>
<use href="#Lp" x="599" y="469"/>
<use href="#Lp" x="663" y="477"/>
<use href="#Dr" x="615" y="481"/>
<use href="#Rb" x="647" y="489"/>
<use href="#Dp" x="615" y="493"/>
<use href="#Lp" x="663" y="501"/>
<use href="#Rb" x="647" y="505"/>
<use href="#Dr" x="679" y="513"/>
<use href="#Lb" x="663" y="521"/>
<use href="#Rr" x="647" y="529"/>
<use href="#Up" x="631" y="533"/>
<use href="#Lp" x="599" y="541"/>
<use href="#Rr" x="647" y="545"/>
<use href="#Db" x="615" y="553"/>
<use href="#Lp" x="663" y="557"/>
<use href="#Rp" x="647" y="565"/>
<use href="#Db" x="679" y="569"/>
<use href="#Lr" x="663" y="577"/>
<use href="#Rb" x="711" y="585"/>
<use href="#Dp" x="679" y="589"/>
<use href="#Rr" x="711" y="593"/>
<use href="#Lb" x="663" y="601"/>
<use href="#Up" x="695" y="605"/>
<use href="#Lr" x="663" y="609"/>
<use href="#Db" x="679" y="617"/>
<use href="#Rp" x="647" y="621"/>
<use href="#Dr" x="679" y="625"/>
<use href="#Lb" x="663" y="633"/>
<use href="#Dr" x="679" y="641"/>
<use href="#Ub" x="695" y="649"/>
<use href="#Rr" x="711" y="657"/>
<use href="#Dp" x="679" y="661"/>
<use href="#Lp" x="663" y="669"/>
<use href="#Rr" x="647" y="673"/>
<use href="#Db" x="615" y="681"/>
<use href="#Lp" x="599" y="685"/>
<use href="#Up" x="631" y="693"/>
<use href="#Lb" x="599" y="697"/>
<use href="#Rr" x="647" y="705"/>
<use href="#Ub" x="631" y="713"/>
<use href="#Dr" x="615" y="721"/>
<use href="#Lp" x="599" y="725"/>
<use href="#Up" x="631" y="733"/>
<use href="#Rr" x="647" y="737"/>
<use href="#Lb" x="663" y="745"/>
<use href="#Up" x="695" y="749"/>
<use href="#Rp" x="711" y="757"/>
<use href="#Lb" x="663" y="761"/>
<use href="#Dr" x="679" y="769"/>
<use href="#Db" x="679" y="777"/>
<use href="#Rr" x="647" y="785"/>
<use href="#Rb" x="647" y="793"/>
<use href="#Lr" x="663" y="801"/>
<use href="#Lb" x="663" y="809"/>
<use href="#Dr" x="759" y="49"/>
<use href="#Db" x="759" y="57"/>
<use href="#Ur" x="775" y="65"/>
<use href="#Lp" x="743" y="69"/>
<use href="#Rb" x="791" y="73"/>
<use href="#Dr" x="759" y="81"/>
<use href="#Lp" x="807" y="85"/>
<use href="#Rb" x="791" y="89"/>
<use href="#Dr" x="823" y="97"/>
<use href="#Up" x="839" y="101"/>
<use href="#Lb" x="807" y="105"/>
<use href="#Ur" x="775" y="113"/>
<use href="#Lp" x="807" y="117"/>
<use href="#Rb" x="791" y="121"/>
<use href="#Lr" x="807" y="129"/>
<use href="#Dp" x="759" y="133"/>
<use href="#Ub" x="775" y="137"/>
</svg>
<div class="t" style="left:8px;top:5px;font-size:13px;font-weight:bold;transform:scaleX(0.8974);">Í  ç °Í  Íź</div>
<div class="t" style="left:8px;top:22px;font-size:14px;transform:scaleX(0.9524);">Í×§ćĄ ćŠ (äź Í  ćł˘čŞż)</div>
<div class="t" style="left:8px;top:38px;font-size:10px;">BPM: 78.000 / MANIAC DOUBLE / 16 feet</div>
<div class="t" style="left:11px;top:49px;font-size:10px;">A</div>
<div class="t" style="left:11px;top:385px;font-size:10px;">B</div>
<div class="t" style="left:8px;top:828px;font-size:10px;color:#808080;">A: 78.000 BPM</div>
<div class="t" style="left:136px;top:828px;font-size:10px;color:#0066cc;">B: 0.77s (1/4)</div>
<div class="t" style="left:8px;top:843px;font-size:10px;">470 steps, 19 freeze arrows, max combo 488</div>
</body></html>
